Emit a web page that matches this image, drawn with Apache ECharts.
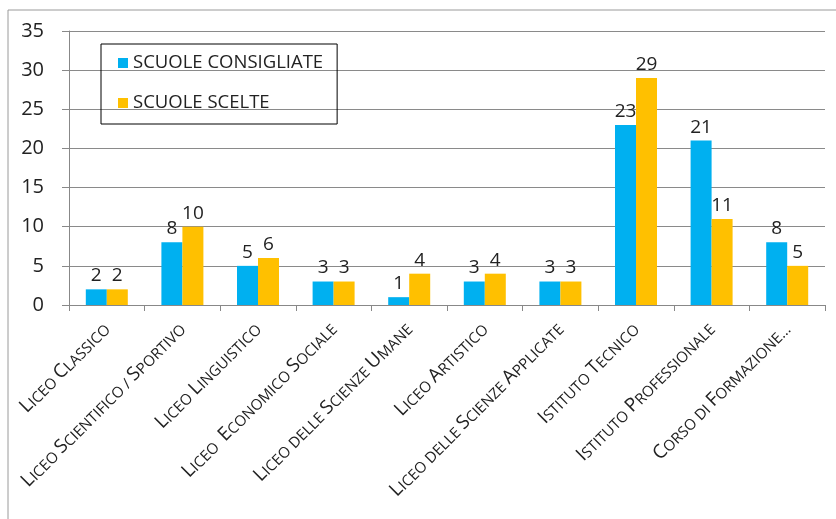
<!DOCTYPE html>
<html>
<head>
<meta charset="utf-8">
<script src="https://cdn.jsdelivr.net/npm/echarts@6/dist/echarts.min.js"></script>
<style>
html,body{margin:0;padding:0;background:#fff}
#main{width:836px;height:519px}
</style>
</head>
<body>
<div id="main"></div>
<script>
var categories = ['Liceo Classico', 'Liceo Scientifico / Sportivo', 'Liceo Linguistico', 'Liceo  Economico Sociale',
  'Liceo delle Scienze Umane', 'Liceo Artistico', 'Liceo delle Scienze Applicate', 'Istituto Tecnico',
  'Istituto Professionale', 'Corso di Formazione...']
var consigliate = [2, 8, 5, 3, 1, 3, 3, 23, 21, 8]
var scelte = [2, 10, 6, 3, 4, 4, 3, 29, 11, 5]
var seriesNames = ['SCUOLE CONSIGLIATE', 'SCUOLE SCELTE']

var FONT = '"Open Sans", "Liberation Sans", sans-serif'
var TXT = '#222'

// finto maiuscoletto: prima lettera grande, resto piccolo
function smallCaps(s){
  return s.split(' ').map(function(w){
    if(!w) return ''
    if(/[A-Z]/.test(w[0])){
      return '{b|'+w[0]+'}'+(w.length>1 ? '{s|'+w.slice(1).toUpperCase()+'}' : '')
    }
    return '{s|'+w.toUpperCase()+'}'
  }).join('{s| }')
}

var chart = echarts.init(document.getElementById('main'))
var option = {
  animation:false,
  textStyle:{fontFamily:FONT},
  graphic:[
    {type:'line', shape:{x1:8,y1:10,x2:836,y2:10}, style:{stroke:'#9a9a9a',lineWidth:1}},
    {type:'line', shape:{x1:8,y1:10,x2:8,y2:519}, style:{stroke:'#9a9a9a',lineWidth:1}}
  ],
  legend:{
    orient:'vertical',
    left:101, top:44,
    padding:[7,14,9,17],
    itemGap:16,
    itemWidth:10, itemHeight:10,
    borderColor:'#000', borderWidth:1,
    icon:'rect',
    textStyle:{fontSize:18.5, color:TXT, fontFamily:FONT, padding:[0,0,0,0], lineHeight:24},
    data:seriesNames
  },
  grid:{left:69, right:11, top:31, bottom:214, containLabel:false},
  xAxis:{
    type:'category',
    data:categories,
    axisLine:{lineStyle:{color:'#888'}},
    axisTick:{show:true, length:6, lineStyle:{color:'#888'}},
    axisLabel:{
      rotate:45, interval:0, margin:21, color:TXT, fontSize:15,
      formatter:smallCaps,
      rich:{
        b:{fontSize:19, color:TXT, fontFamily:FONT, verticalAlign:'bottom'},
        s:{fontSize:15, color:TXT, fontFamily:FONT, verticalAlign:'bottom'}
      }
    }
  },
  yAxis:{
    type:'value',
    min:0, max:35, interval:5,
    axisLine:{show:true, lineStyle:{color:'#888'}},
    axisTick:{show:true, length:7, lineStyle:{color:'#888'}},
    axisLabel:{fontSize:20, color:TXT, margin:25},
    splitLine:{lineStyle:{color:'#8a8a8a'}}
  },
  series:[
    {
      name:seriesNames[0], type:'bar', data:consigliate,
      barWidth:21, barGap:'0%',
      itemStyle:{color:'#00B0F0'},
      label:{show:true, position:'top', distance:4, fontSize:19, color:TXT}
    },
    {
      name:seriesNames[1], type:'bar', data:scelte,
      barWidth:21, barGap:'0%',
      itemStyle:{color:'#FFC000'},
      label:{show:true, position:'top', distance:4, fontSize:19, color:TXT}
    }
  ]
}
chart.setOption(option)
</script>
</body>
</html>
